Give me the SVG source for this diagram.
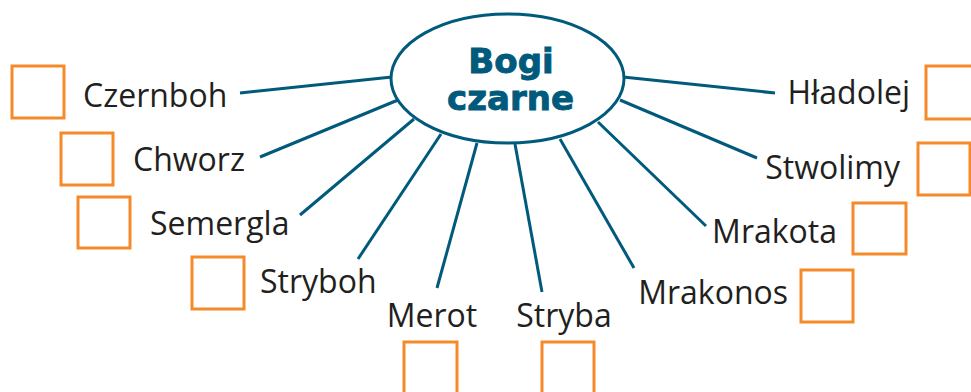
<svg xmlns="http://www.w3.org/2000/svg" width="971" height="392" viewBox="0 0 971 392">
<style>
.lbl{font-family:"Open Sans","Noto Sans",sans-serif;font-size:32px;fill:#231f20}
.box{fill:none;stroke:#f58a2a;stroke-width:3}
.con{stroke:#005a7c;stroke-width:3;stroke-linecap:butt}
.title{font-family:"DejaVu Sans",sans-serif;font-weight:bold;font-size:34px;fill:#005a7c;stroke:#005a7c;stroke-width:0.9;text-anchor:middle}
</style>
<rect width="971" height="392" fill="#ffffff"/>
<g id="connectors">
<line class="con" x1="240" y1="93" x2="392" y2="77"/>
<line class="con" x1="260" y1="157" x2="398" y2="100"/>
<line class="con" x1="300" y1="215" x2="414" y2="119"/>
<line class="con" x1="358" y1="259" x2="441" y2="134"/>
<line class="con" x1="437" y1="288" x2="477" y2="143"/>
<line class="con" x1="542" y1="292" x2="515" y2="144"/>
<line class="con" x1="634" y1="268" x2="560" y2="139"/>
<line class="con" x1="706" y1="226" x2="598" y2="122"/>
<line class="con" x1="757" y1="158" x2="620" y2="100"/>
<line class="con" x1="775" y1="93" x2="623" y2="77"/>
</g>
<g id="center">
<ellipse cx="507.5" cy="78.5" rx="116.5" ry="64.5" fill="#ffffff" stroke="#005a7c" stroke-width="3"/>
<text class="title" x="511" y="73">Bogi</text>
<text class="title" x="510.5" y="110">czarne</text>
</g>
<g id="czernboh"><rect class="box" x="12" y="66" width="52" height="52"/><text class="lbl" x="83" y="107">Czernboh</text></g>
<g id="chworz"><rect class="box" x="61" y="133" width="52" height="52"/><text class="lbl" x="133" y="171">Chworz</text></g>
<g id="semergla"><rect class="box" x="78" y="197" width="52" height="51"/><text class="lbl" x="150" y="235">Semergla</text></g>
<g id="stryboh"><rect class="box" x="192" y="257" width="52" height="52"/><text class="lbl" x="260" y="293">Stryboh</text></g>
<g id="merot"><rect class="box" x="404" y="342" width="53" height="60"/><text class="lbl" x="432" y="327" text-anchor="middle">Merot</text></g>
<g id="stryba"><rect class="box" x="542" y="342" width="52" height="60"/><text class="lbl" x="564" y="327" text-anchor="middle">Stryba</text></g>
<g id="mrakonos"><rect class="box" x="801" y="270" width="52" height="52"/><text class="lbl" x="788" y="304" text-anchor="end">Mrakonos</text></g>
<g id="mrakota"><rect class="box" x="853" y="203" width="53" height="51"/><text class="lbl" x="837" y="243" text-anchor="end">Mrakota</text></g>
<g id="stwolimy"><rect class="box" x="918" y="143" width="52" height="52"/><text class="lbl" x="900" y="179" text-anchor="end">Stwolimy</text></g>
<g id="hladolej"><rect class="box" x="926" y="66" width="52" height="53"/><text class="lbl" x="910" y="104" text-anchor="end">Hładolej</text></g>
</svg>
